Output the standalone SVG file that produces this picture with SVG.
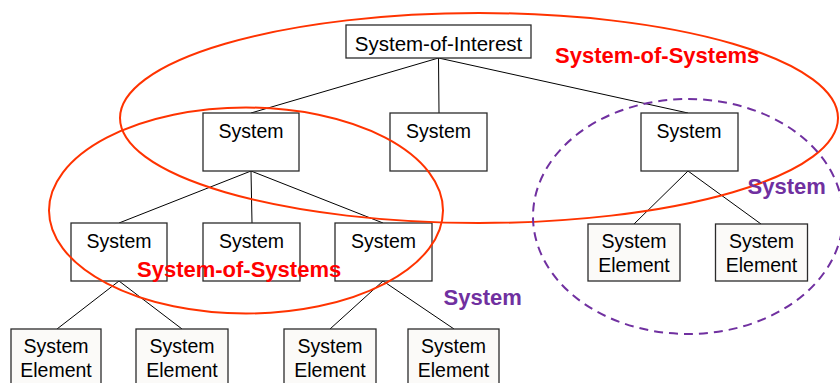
<svg xmlns="http://www.w3.org/2000/svg" width="840" height="383" viewBox="0 0 840 383">
  <style>
    .box { fill: #ffffff; stroke: #2b2b2b; stroke-width: 1.3; }
    .elem { fill: #fbfaf8; stroke: #2b2b2b; stroke-width: 1.3; }
    .lbl { font-family: "Liberation Sans", Arial, sans-serif; font-size: 19.5px; fill: #000; text-anchor: middle; }
    .top { font-size: 20.5px; }
    .link { stroke: #000; stroke-width: 1; fill: none; }
    .sos { fill: none; stroke: #ff3300; stroke-width: 2; }
    .grp { fill: none; stroke: #7030a0; stroke-width: 2; stroke-dasharray: 9 6; }
    .tag { font-family: "Liberation Sans", Arial, sans-serif; font-size: 22px; font-weight: bold; }
  </style>

  <rect width="840" height="383" fill="#ffffff"/>

  <!-- hierarchy links -->
  <g id="connectors">
    <line class="link" x1="438.5" y1="58" x2="251" y2="113"/>
    <line class="link" x1="438.5" y1="58" x2="439" y2="113"/>
    <line class="link" x1="438.5" y1="58" x2="688" y2="113"/>
    <line class="link" x1="251" y1="171" x2="119" y2="223"/>
    <line class="link" x1="251" y1="171" x2="252" y2="223"/>
    <line class="link" x1="251" y1="171" x2="383" y2="223"/>
    <line class="link" x1="688" y1="171" x2="634" y2="224"/>
    <line class="link" x1="688" y1="171" x2="761" y2="224"/>
    <line class="link" x1="119" y1="281" x2="57" y2="329"/>
    <line class="link" x1="119" y1="281" x2="182" y2="329"/>
    <line class="link" x1="383" y1="281" x2="330" y2="329"/>
    <line class="link" x1="383" y1="281" x2="454" y2="329"/>
  </g>

  <g id="soi">
    <rect class="box" x="346" y="25" width="185" height="33"/>
    <text class="lbl top" x="438.5" y="50.5">System-of-Interest</text>
  </g>

  <g id="sys-a">
    <rect class="box" x="203" y="113" width="96" height="58"/>
    <text class="lbl" x="251" y="138">System</text>
  </g>
  <g id="sys-b">
    <rect class="box" x="390" y="113" width="97" height="58"/>
    <text class="lbl" x="438.5" y="138">System</text>
  </g>
  <g id="sys-c">
    <rect class="box" x="641" y="113" width="97" height="58"/>
    <text class="lbl" x="689" y="138">System</text>
  </g>

  <g id="sys-a1">
    <rect class="box" x="71" y="223" width="96" height="58"/>
    <text class="lbl" x="119" y="248">System</text>
  </g>
  <g id="sys-a2">
    <rect class="box" x="203" y="223" width="97" height="58"/>
    <text class="lbl" x="251.5" y="248">System</text>
  </g>
  <g id="sys-a3">
    <rect class="box" x="335" y="223" width="97" height="58"/>
    <text class="lbl" x="383.5" y="248">System</text>
  </g>

  <g id="elem-c1">
    <rect class="elem" x="588" y="224" width="92" height="57"/>
    <text class="lbl" x="634" y="248">System</text>
    <text class="lbl" x="634" y="272">Element</text>
  </g>
  <g id="elem-c2">
    <rect class="elem" x="715.5" y="224" width="92" height="57"/>
    <text class="lbl" x="761.5" y="248">System</text>
    <text class="lbl" x="761.5" y="272">Element</text>
  </g>

  <g id="elem-a1-1">
    <rect class="elem" x="11" y="329" width="90" height="60"/>
    <text class="lbl" x="56" y="353">System</text>
    <text class="lbl" x="56" y="377">Element</text>
  </g>
  <g id="elem-a1-2">
    <rect class="elem" x="136" y="329" width="92" height="60"/>
    <text class="lbl" x="182" y="353">System</text>
    <text class="lbl" x="182" y="377">Element</text>
  </g>
  <g id="elem-a3-1">
    <rect class="elem" x="284" y="329" width="92" height="60"/>
    <text class="lbl" x="330" y="353">System</text>
    <text class="lbl" x="330" y="377">Element</text>
  </g>
  <g id="elem-a3-2">
    <rect class="elem" x="408" y="329" width="91" height="60"/>
    <text class="lbl" x="453.5" y="353">System</text>
    <text class="lbl" x="453.5" y="377">Element</text>
  </g>

  <!-- grouping outlines -->
  <g id="groups">
    <ellipse class="sos" cx="479" cy="118" rx="359" ry="105"/>
    <ellipse class="sos" cx="246" cy="210.5" rx="197" ry="103"/>
    <ellipse class="grp" cx="688" cy="216.5" rx="155" ry="117.5"/>
    <text class="tag" x="555" y="63" fill="#ff0000">System-of-Systems</text>
    <text class="tag" x="137" y="277" fill="#ff0000">System-of-Systems</text>
    <text class="tag" x="747.5" y="194" fill="#7030a0">System</text>
    <text class="tag" x="443.5" y="305" fill="#7030a0">System</text>
  </g>
</svg>
